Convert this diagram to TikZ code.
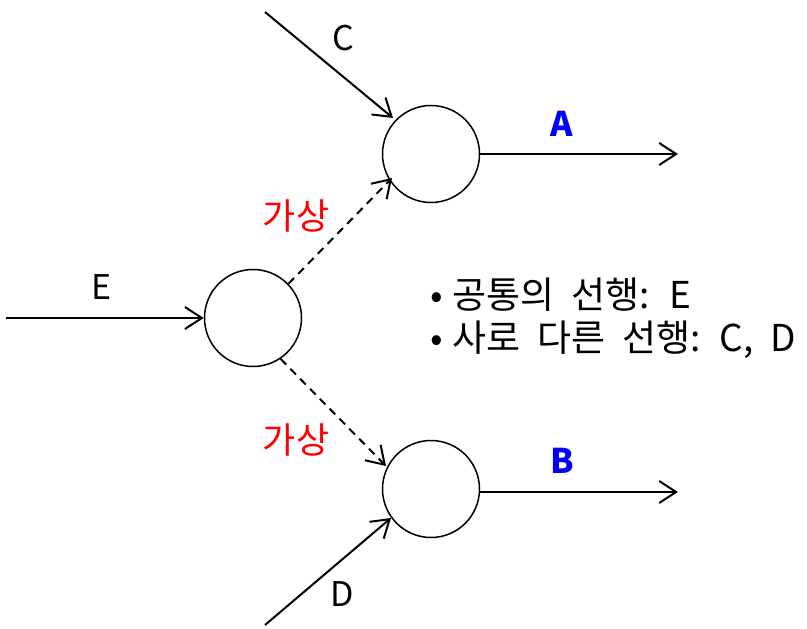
\documentclass[tikz,border=0pt]{standalone}
\usepackage{fontspec}
\setmainfont{Noto Sans CJK KR}
\newfontfamily\notefont[WordSpace=2.0]{Noto Sans CJK KR}
\usetikzlibrary{arrows.meta,calc}
\begin{document}
\begin{tikzpicture}[x=1pt,y=-1pt,
  evt/.style={circle,draw,line width=1.5pt,minimum size=97pt,inner sep=0pt},
  act/.style={line width=2pt,-{Straight Barb[length=17pt,width=22pt,line width=2pt]}},
  dum/.style={act,dash pattern=on 8pt off 6pt},
  lbl/.style={font=\fontsize{34}{40}\selectfont,inner sep=0pt},
  res/.style={lbl,text=blue,font=\fontsize{34}{40}\selectfont\bfseries},
  virt/.style={lbl,text=red,font=\fontsize{36}{40}\selectfont}]
\useasboundingbox (0,0) rectangle (807,629);
\node[evt] (t) at (431,154) {};
\node[evt] (m) at (253,318) {};
\node[evt] (b) at (431,489) {};
\coordinate (cs) at (265,12);
\coordinate (es) at (6,318);
\coordinate (ds) at (265,625);
\coordinate (ae) at (678,154);
\coordinate (be) at (678,492);
\draw[act] (cs) -- ($(t.center)+(-38,-36)$);
\draw[act] (es) -- (m.west);
\draw[act] (ds) -- ($(b.center)+(-40,29)$);
\draw[act] (t.east) -- (ae);
\draw[act] (b.east|-be) -- (be);
\draw[dum] (m.44) -- ($(t.center)+(-39,24)$);
\draw[dum] (m.-56) -- ($(b.center)+(-45,-23)$);
\node[lbl] (lc) at (343,38) {C};
\node[lbl] (le) at (102,287) {E};
\node[lbl] (ld) at (342,594) {D};
\node[res] (la) at (562,124) {A};
\node[res] (lb) at (562,461) {B};
\node[virt] (v1) at (296,216) {가상};
\node[virt] (v2) at (296,440) {가상};
\node[lbl,anchor=west,align=left,font=\notefont\fontsize{37}{43}\selectfont] (txt) at (430,318) {•\hspace*{10pt}공통의 선행: E\\•\hspace*{10pt}사로 다른 선행: C, D};
\end{tikzpicture}
\end{document}
